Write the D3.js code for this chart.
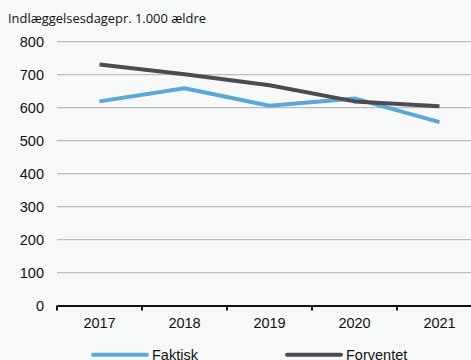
<!DOCTYPE html>
<html><head><meta charset="utf-8">
<script src="https://cdn.jsdelivr.net/npm/d3@7"></script>
<style>
body{margin:0;background:#f7f9f9;}
svg{display:block;background:#f7f9f9;}
</style></head>
<body><svg id="c" width="471" height="360"></svg>
<script>
const years = ["2017","2018","2019","2020","2021"];
const faktisk = [619, 659, 606, 628, 556];
const forventet = [731, 701, 668, 619, 604];
const yTicks = [0,100,200,300,400,500,600,700,800];
const seriesNames = ["Faktisk","Forventet"];
const colors = ["#5ba7d6","#4b4b51"];

(function(){
const svg = d3.select("#c");
const mLeft = 57, mRight = 482, mTop = 41.7, mBottom = 305.5;
const x = d3.scaleBand().domain(years).range([mLeft, mRight]);
const y = d3.scaleLinear().domain([0,800]).range([mBottom, mTop]);

svg.append("text").attr("x",8).attr("y",23)
  .attr("font-family","'Open Sans', sans-serif").attr("font-size",12.9).attr("fill","#111")
  .text("Indlæggelsesdagepr. 1.000 ældre");

svg.append("g").selectAll("line").data(yTicks.filter(d=>d>0)).join("line")
  .attr("x1",mLeft).attr("x2",471).attr("y1",d=>y(d)).attr("y2",d=>y(d))
  .attr("stroke","#bdbdbd").attr("stroke-width",1.2);

svg.append("g").selectAll("text").data(yTicks).join("text")
  .attr("x",44).attr("y",d=>y(d)+5).attr("text-anchor","end")
  .attr("font-family","'Liberation Sans', Arial, sans-serif").attr("font-size",14.5).attr("fill","#111")
  .text(d=>d);

const xAxis = d3.axisBottom(x).tickSizeInner(0).tickSizeOuter(0).tickPadding(12);
const gx = svg.append("g").attr("transform",`translate(0,${mBottom})`).call(xAxis);
gx.select(".domain").attr("stroke","#111").attr("stroke-width",2);
gx.selectAll("text").attr("font-family","'Liberation Sans', Arial, sans-serif").attr("font-size",14.5).attr("fill","#111");
svg.append("g").selectAll("line").data(years).join("line")
  .attr("x1",d=>x(d)).attr("x2",d=>x(d)).attr("y1",mBottom).attr("y2",mBottom+5)
  .attr("stroke","#111").attr("stroke-width",2);

const line = d3.line().x((d,i)=>x(years[i])+x.bandwidth()/2).y(d=>y(d));
[faktisk, forventet].forEach((s,k)=>{
  svg.append("path").datum(s).attr("d",line).attr("fill","none")
    .attr("stroke",colors[k]).attr("stroke-width",4).attr("stroke-linejoin","round");
});

const legX = [93, 287];
seriesNames.forEach((n,k)=>{
  svg.append("line").attr("x1",legX[k]).attr("x2",legX[k]+54).attr("y1",354.7).attr("y2",354.7)
    .attr("stroke",colors[k]).attr("stroke-width",4).attr("stroke-linecap","round");
  svg.append("text").attr("x",legX[k]+59).attr("y",359.5)
    .attr("font-family","'Liberation Sans', Arial, sans-serif").attr("font-size",14.5).attr("fill","#111")
    .text(n);
});
})();
</script></body></html>
